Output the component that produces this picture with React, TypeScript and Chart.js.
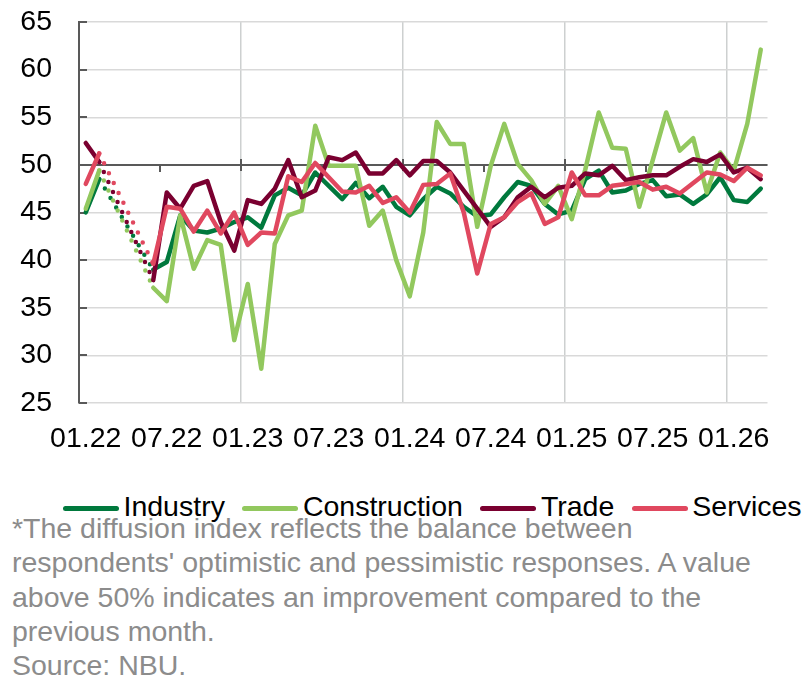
import React, { useEffect, useRef } from 'react';
import { Chart, registerables } from 'chart.js';

Chart.register(...registerables);

const FONT = '"Liberation Sans", Arial, sans-serif';

const months = [
  '01.22', '02.22', '03.22', '04.22', '05.22', '06.22', '07.22', '08.22', '09.22', '10.22', '11.22', '12.22',
  '01.23', '02.23', '03.23', '04.23', '05.23', '06.23', '07.23', '08.23', '09.23', '10.23', '11.23', '12.23',
  '01.24', '02.24', '03.24', '04.24', '05.24', '06.24', '07.24', '08.24', '09.24', '10.24', '11.24', '12.24',
  '01.25', '02.25', '03.25', '04.25', '05.25', '06.25', '07.25', '08.25', '09.25', '10.25', '11.25', '12.25',
  '01.26', '02.26', '03.26',
];

const tickLabels = ['01.22', '07.22', '01.23', '07.23', '01.24', '07.24', '01.25', '07.25', '01.26'];
const gridMonths = ['01.23', '01.24', '01.25', '01.26'];
const yTicks = [25, 30, 35, 40, 45, 50, 55, 60, 65];
const AXIS_CROSS = 50;

const industry = [
  45.0, 48.5, null, null, null, 39.0, 39.8, 44.7, 43.1, 42.9, 43.3, 44.0,
  44.5, 43.4, 46.8, 47.6, 46.8, 49.2, 47.8, 46.4, 48.1, 46.5, 47.7, 45.6,
  44.7, 46.4, 47.7, 47.0, 45.6, 44.6, 44.8, 46.6, 48.2, 47.8, 45.9, 44.8,
  45.2, 48.5, 49.4, 47.1, 47.3, 48.0, 48.4, 46.7, 46.9, 45.9, 46.9, 48.7,
  46.3, 46.1, 47.5,
];

const construction = [
  45.4, 49.4, null, null, null, 37.1, 35.7, 44.7, 39.1, 42.1, 41.6, 31.6,
  37.5, 28.6, 41.7, 44.7, 45.2, 54.1, 49.9, 49.9, 49.9, 43.6, 45.2, 40.0,
  36.2, 42.9, 54.5, 52.2, 52.2, 43.5, 49.9, 54.3, 50.1, 48.4, 45.9, 47.8,
  44.3, 49.5, 55.5, 51.8, 51.7, 45.6, 50.5, 55.5, 51.5, 52.8, 47.1, 51.3,
  49.4, 54.3, 62.1,
];

const trade = [
  52.3, 50.3, null, null, null, 37.9, 47.1, 45.4, 47.8, 48.3, 44.0, 41.0,
  46.3, 45.9, 47.5, 50.5, 46.6, 47.3, 50.8, 50.5, 51.3, 49.1, 49.1, 50.5,
  48.9, 50.4, 50.4, 49.2, 47.3, 45.4, 43.5, 44.5, 46.6, 47.7, 46.6, 47.6,
  47.8, 49.1, 48.9, 49.9, 48.4, 48.7, 48.9, 48.9, 49.8, 50.6, 50.3, 51.1,
  49.2, 49.7, 48.5,
];

const services = [
  48.0, 51.2, null, null, null, 39.6, 45.6, 45.4, 43.0, 45.2, 42.8, 45.0,
  41.6, 42.9, 42.8, 48.8, 48.2, 50.2, 48.7, 47.2, 47.1, 47.8, 46.0, 46.6,
  45.0, 47.9, 48.0, 49.1, 45.0, 38.6, 43.8, 44.5, 46.1, 47.0, 43.8, 44.5,
  49.2, 46.8, 46.8, 47.8, 48.0, 48.2, 47.4, 47.7, 47.0, 48.1, 49.2, 49.0,
  48.3, 49.7, 48.9,
];

const seriesNames = ['Industry', 'Construction', 'Trade', 'Services'];
const seriesColors = ['#00793D', '#92C85E', '#7A0030', '#E0485F'];
const seriesData = [industry, construction, trade, services];

const footnoteLines = [
  '*The diffusion index reflects the balance between',
  "respondents' optimistic and pessimistic responses. A value",
  'above 50% indicates an improvement compared to the',
  'previous month.',
  'Source: NBU.',
];

const AXIS_COLOR = '#595959';
const GRID_H = '#D9D9D9';
const GRID_V = '#CDD0D0';

const axisPlugin = {
  id: 'excelAxes',
  beforeDatasetsDraw(chart: any) {
    const { ctx, chartArea, scales } = chart;
    const x = scales.x;
    const y = scales.y;
    const seg = (x1: number, y1: number, x2: number, y2: number) => {
      ctx.beginPath();
      ctx.moveTo(x1, y1);
      ctx.lineTo(x2, y2);
      ctx.stroke();
    };
    ctx.save();
    ctx.strokeStyle = AXIS_COLOR;
    ctx.lineWidth = 2;
    ctx.lineCap = 'butt';
    yTicks.forEach((v) => {
      const py = Math.round(y.getPixelForValue(v));
      seg(chartArea.left, py, chartArea.left + 8, py);
    });
    const y50 = Math.round(y.getPixelForValue(AXIS_CROSS));
    seg(chartArea.left, y50, chartArea.right, y50);
    tickLabels.forEach((lbl) => {
      const i = months.indexOf(lbl);
      const px = i === 0 ? chartArea.left : Math.round((x.getPixelForValue(i - 1) + x.getPixelForValue(i)) / 2);
      if (lbl.startsWith('01')) seg(px, y50 - 6, px, y50 + 6);
      else seg(px, y50, px, y50 + 7);
    });
    ctx.restore();
  },
};

export default function App() {
  const ref = useRef<HTMLCanvasElement>(null);

  useEffect(() => {
    if (!ref.current) return;
    const chart = new Chart(ref.current, {
      type: 'line',
      data: {
        labels: months,
        datasets: seriesNames.map((name, k) => {
          const values = seriesData[k];
          return {
            label: name,
            data: values,
            borderColor: seriesColors[k],
            backgroundColor: seriesColors[k],
            borderWidth: 4.5,
            borderCapStyle: 'round',
            borderJoinStyle: 'round',
            pointRadius: 0,
            pointHoverRadius: 0,
            spanGaps: true,
            tension: 0,
            order: 4 - k,
            segment: {
              borderDash: (c: any) =>
                c.p1DataIndex > 0 && values[c.p1DataIndex - 1] == null ? [0, 11] : undefined,
            },
          };
        }),
      } as any,
      options: {
        responsive: false,
        animation: false,
        layout: { padding: { top: 22, right: 34.5, left: 0, bottom: 0 } },
        plugins: { legend: { display: false }, tooltip: { enabled: false } },
        scales: {
          x: {
            type: 'category',
            offset: true,
            grid: {
              offset: true,
              drawTicks: false,
              lineWidth: 1.5,
              color: (c: any) => (gridMonths.includes(months[c.index]) ? GRID_V : 'rgba(0,0,0,0)'),
            },
            border: { display: false },
            ticks: {
              autoSkip: false,
              maxRotation: 0,
              minRotation: 0,
              padding: 19,
              color: '#000',
              font: { family: FONT, size: 28.5 },
              callback: (_v: any, i: number) => (tickLabels.includes(months[i]) ? months[i] : ''),
            },
            afterFit: (s: any) => {
              s.height = 67;
              s.paddingLeft = 0;
              s.paddingRight = 0;
              s.paddingTop = 0;
              s.paddingBottom = 0;
            },
          },
          y: {
            min: 25,
            max: 65,
            ticks: {
              stepSize: 5,
              padding: 27,
              color: '#000',
              font: { family: FONT, size: 28.5 },
            },
            grid: { color: GRID_H, lineWidth: 1.5, drawTicks: false },
            border: { display: true, color: AXIS_COLOR, width: 2 },
            afterFit: (s: any) => {
              s.width = 79;
              s.paddingTop = 0;
              s.paddingBottom = 0;
              s.paddingLeft = 0;
              s.paddingRight = 0;
            },
          },
        },
      } as any,
      plugins: [axisPlugin],
    });
    return () => chart.destroy();
  }, []);

  return (
    <div
      style={{
        position: 'absolute',
        left: 0,
        top: 0,
        width: 802,
        height: 679,
        background: '#fff',
        overflow: 'hidden',
        fontFamily: FONT,
      }}
    >
      <canvas
        ref={ref}
        width={802}
        height={470}
        style={{ position: 'absolute', left: 0, top: 0, width: 802, height: 470, display: 'block' }}
      />
      <div
        style={{
          position: 'absolute',
          left: 63,
          top: 491,
          display: 'flex',
          alignItems: 'flex-start',
          whiteSpace: 'nowrap',
          fontSize: 28.5,
          lineHeight: '30px',
          color: '#000',
        }}
      >
        {seriesNames.map((name, k) => (
          <div key={name} style={{ display: 'flex', alignItems: 'flex-start', marginRight: 17.5 }}>
            <div
              style={{
                width: 56,
                height: 5,
                marginTop: 15,
                borderRadius: 2.5,
                background: seriesColors[k],
                marginRight: 4.5,
              }}
            />
            <span>{name}</span>
          </div>
        ))}
      </div>
      <div
        style={{
          position: 'absolute',
          left: 12,
          top: 511,
          fontSize: 28.5,
          lineHeight: '34.25px',
          color: '#8C8C8C',
          whiteSpace: 'nowrap',
        }}
      >
        {footnoteLines.map((l) => (
          <div key={l}>{l}</div>
        ))}
      </div>
    </div>
  );
}
